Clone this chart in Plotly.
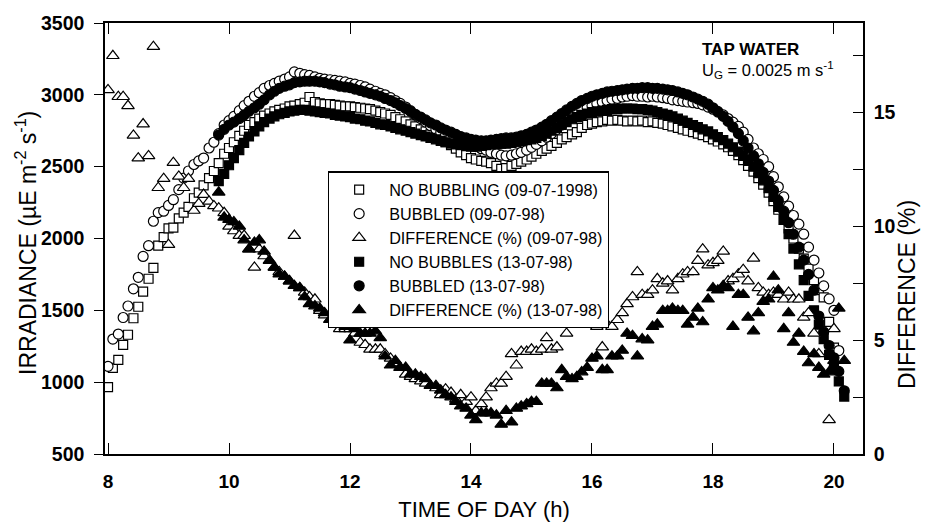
import plotly.graph_objects as go

# ---------------- data ----------------
# 09-07-1998 sampling times (h), 5-min steps
T_0907 = [
    8.00, 8.08, 8.17, 8.25, 8.33, 8.42, 8.50, 8.58, 8.67, 8.75, 8.83, 8.92,
    9.00, 9.08, 9.17, 9.25, 9.33, 9.42, 9.50, 9.58, 9.67, 9.75, 9.83, 9.92,
    10.00, 10.08, 10.17, 10.25, 10.33, 10.42, 10.50, 10.58, 10.67, 10.75, 10.83, 10.92,
    11.00, 11.08, 11.17, 11.25, 11.33, 11.42, 11.50, 11.58, 11.67, 11.75, 11.83, 11.92,
    12.00, 12.08, 12.17, 12.25, 12.33, 12.42, 12.50, 12.58, 12.67, 12.75, 12.83, 12.92,
    13.00, 13.08, 13.17, 13.25, 13.33, 13.42, 13.50, 13.58, 13.67, 13.75, 13.83, 13.92,
    14.00, 14.08, 14.17, 14.25, 14.33, 14.42, 14.50, 14.58, 14.67, 14.75, 14.83, 14.92,
    15.00, 15.08, 15.17, 15.25, 15.33, 15.42, 15.50, 15.58, 15.67, 15.75, 15.83, 15.92,
    16.00, 16.08, 16.17, 16.25, 16.33, 16.42, 16.50, 16.58, 16.67, 16.75, 16.83, 16.92,
    17.00, 17.08, 17.17, 17.25, 17.33, 17.42, 17.50, 17.58, 17.67, 17.75, 17.83, 17.92,
    18.00, 18.08, 18.17, 18.25, 18.33, 18.42, 18.50, 18.58, 18.67, 18.75, 18.83, 18.92,
    19.00, 19.08, 19.17, 19.25, 19.33, 19.42, 19.50, 19.58, 19.67, 19.75, 19.83, 19.92,
    20.00, 20.08,
]
NO_BUBBLING_0907 = [
    965, 1100, 1155, 1260, 1330, 1445, 1525, 1630, 1720, 1795, 1950, 2010,
    2070, 2075, 2140, 2180, 2220, 2280, 2320, 2370, 2420, 2470, 2525, 2590,
    2630, 2670, 2715, 2750, 2790, 2810, 2835, 2855, 2870, 2885, 2895, 2905,
    2920, 2925, 2935, 2945, 2985, 2950, 2940, 2935, 2935, 2930, 2925, 2920,
    2920, 2915, 2910, 2905, 2900, 2890, 2880, 2870, 2860, 2845, 2830, 2815,
    2795, 2780, 2760, 2745, 2725, 2705, 2690, 2670, 2650, 2625, 2600, 2580,
    2560, 2550, 2540, 2535, 2525, 2505, 2485, 2490, 2505, 2520, 2535, 2550,
    2570, 2590, 2610, 2625, 2645, 2665, 2690, 2705, 2725, 2740, 2770, 2790,
    2800, 2810, 2815, 2825, 2820, 2825, 2820, 2815, 2820, 2815, 2820, 2810,
    2815, 2805, 2800, 2790, 2780, 2770, 2760, 2750, 2740, 2730, 2720, 2705,
    2690, 2675, 2655, 2635, 2610, 2580, 2545, 2505, 2465, 2420, 2375, 2320,
    2260, 2200, 2130, 2070, 2000, 1930, 1860, 1790, 1710, 1640, 1590, 1420,
    1240, None,
]
BUBBLED_0907 = [
    1110, 1300, 1335, 1450, 1530, 1650, 1730, 1875, 1950, 2120, 2180, 2190,
    2230, 2270, 2340, 2420, 2470, 2515, 2540, 2560, 2630, 2670, 2730, 2790,
    2820, 2850, 2890, 2925, 2955, 2990, 3015, 3045, 3065, 3080, 3095, 3110,
    3125, 3160, 3150, 3140, 3135, 3125, 3115, 3110, 3105, 3100, 3095, 3090,
    3080, 3075, 3065, 3055, 3040, 3025, 3010, 3000, 2980, 2960, 2940, 2915,
    2890, 2860, 2835, 2810, 2785, 2760, 2740, 2720, 2705, 2690, 2675, 2665,
    2650, 2640, 2625, 2615, 2600, 2590, 2580, 2575, 2580, 2590, 2600, 2615,
    2635, 2655, 2680, 2705, 2730, 2760, 2790, 2820, 2850, 2875, 2895, 2910,
    2925, 2940, 2950, 2960, 2970, 2975, 2985, 2990, 2995, 2990, 2990, 2985,
    2990, 2985, 2980, 2975, 2965, 2960, 2955, 2950, 2945, 2940, 2930, 2915,
    2900, 2885, 2860, 2835, 2810, 2780, 2740, 2690, 2630, 2590, 2550, 2500,
    2430, 2360, 2290, 2225, 2160, 2100, 2030, 1940, 1850, 1760, 1670, 1580,
    1500, 1220,
]
DIFF_0907 = [
    16.0, 17.5, 15.7, 15.7, 15.3, 14.0, 13.0, 14.5, 13.1, 17.9, 11.7, 12.1,
    9.2, 12.8, 12.2, 11.7, 12.1, 10.7, 11.0, 11.4, 11.1, 10.9, 10.8, 10.6,
    10.0, 9.8, 9.6, 9.6, 9.0, 8.2, 9.0, 8.7, 8.5, 8.2, 8.0, 7.8,
    7.6, 9.6, 7.3, 7.1, 6.9, 6.8, 6.3, 6.1, 5.9, 5.7, 5.5, 5.5,
    5.5, 5.3, 4.9, 4.8, 4.6, 4.6, 4.6, 4.4, 4.2, 4.0, 3.8, 3.5,
    3.4, 3.3, 3.2, 3.1, 3.0, 2.9, 2.6, 2.85, 2.7, 2.4, 2.6, 2.3,
    2.5, 1.9, 2.2, 2.5, 2.9, 3.1, 3.1, 3.4, 4.4, 3.9, 4.5, 4.5,
    4.6, 4.5, 4.6, 5.1, 4.6, 4.7, 5.7, 5.3, 5.75, 5.9, 5.9, 5.7,
    5.8, 5.6, 4.7, 5.7, 5.6, 5.9, 6.2, 6.6, 6.9, 8.0, 7.0, 7.0,
    7.2, 7.7, 7.5, 7.6, 7.2, 7.7, 7.9, 8.0, 8.0, 8.5, 9.0, 8.3,
    8.4, 8.5, 8.9, 7.6, 7.7, 7.9, 8.1, 7.6, 8.6, 7.3, 7.1, 7.0,
    7.1, 7.0, 6.8, 7.1, 6.8, 6.8, 6.0, 6.2, 5.3, 4.4, None, 1.5,
    5.5, None,
]

# 13-07-1998 sampling times (h), 5-min steps
T_1307 = [
    9.83, 9.92,
    10.00, 10.08, 10.17, 10.25, 10.33, 10.42, 10.50, 10.58, 10.67, 10.75, 10.83, 10.92,
    11.00, 11.08, 11.17, 11.25, 11.33, 11.42, 11.50, 11.58, 11.67, 11.75, 11.83, 11.92,
    12.00, 12.08, 12.17, 12.25, 12.33, 12.42, 12.50, 12.58, 12.67, 12.75, 12.83, 12.92,
    13.00, 13.08, 13.17, 13.25, 13.33, 13.42, 13.50, 13.58, 13.67, 13.75, 13.83, 13.92,
    14.00, 14.08, 14.17, 14.25, 14.33, 14.42, 14.50, 14.58, 14.67, 14.75, 14.83, 14.92,
    15.00, 15.08, 15.17, 15.25, 15.33, 15.42, 15.50, 15.58, 15.67, 15.75, 15.83, 15.92,
    16.00, 16.08, 16.17, 16.25, 16.33, 16.42, 16.50, 16.58, 16.67, 16.75, 16.83, 16.92,
    17.00, 17.08, 17.17, 17.25, 17.33, 17.42, 17.50, 17.58, 17.67, 17.75, 17.83, 17.92,
    18.00, 18.08, 18.17, 18.25, 18.33, 18.42, 18.50, 18.58, 18.67, 18.75, 18.83, 18.92,
    19.00, 19.08, 19.17, 19.25, 19.33, 19.42, 19.50, 19.58, 19.67, 19.75, 19.83, 19.92,
    20.00, 20.08, 20.17,
]
NO_BUBBLES_1307 = [
    2400, 2450,
    2510, 2560, 2615, 2665, 2710, 2745, 2780, 2810, 2835, 2850, 2865, 2875,
    2885, 2890, 2895, 2895, 2890, 2885, 2880, 2875, 2870, 2860, 2855, 2850,
    2845, 2835, 2830, 2820, 2815, 2805, 2795, 2790, 2780, 2770, 2760, 2750,
    2740, 2730, 2720, 2710, 2700, 2690, 2680, 2670, 2660, 2655, 2650, 2645,
    2640, 2640, 2645, 2650, 2655, 2655, 2660, 2660, 2665, 2670, 2675, 2685,
    2690, 2700, 2715, 2730, 2750, 2770, 2790, 2810, 2830, 2845, 2860, 2870,
    2880, 2885, 2890, 2895, 2900, 2900, 2905, 2905, 2905, 2900, 2900, 2895,
    2890, 2880, 2870, 2860, 2850, 2835, 2820, 2805, 2790, 2775, 2760, 2745,
    2725, 2705, 2685, 2660, 2635, 2605, 2575, 2540, 2500, 2455, 2405, 2350,
    2290, 2220, 2130, 2030, 1930, 1820, 1710, 1600, 1500, 1400, 1300, 1190,
    1100, 1005, 900,
]
BUBBLED_1307 = [
    2720, 2760,
    2790, 2810, 2835, 2860, 2885, 2910, 2935, 2965, 3000, 3025, 3045, 3060,
    3070, 3085, 3090, 3095, 3095, 3095, 3090, 3085, 3075, 3070, 3060, 3055,
    3050, 3040, 3030, 3020, 3010, 3000, 2990, 2975, 2960, 2945, 2925, 2905,
    2885, 2865, 2845, 2825, 2805, 2790, 2770, 2755, 2740, 2725, 2710, 2700,
    2690, 2685, 2680, 2680, 2685, 2690, 2695, 2700, 2700, 2705, 2715, 2725,
    2740, 2755, 2775, 2795, 2820, 2845, 2870, 2895, 2920, 2940, 2960, 2975,
    2990, 3000, 3010, 3020, 3025, 3030, 3035, 3040, 3045, 3045, 3050, 3050,
    3045, 3045, 3040, 3035, 3030, 3020, 3010, 3000, 2985, 2970, 2955, 2935,
    2910, 2880, 2850, 2815, 2775, 2730, 2680, 2630, 2575, 2520, 2460, 2400,
    2335, 2265, 2190, 2110, 2030, 1940, 1850, 1750, 1640, 1460, 1350, 1255,
    1170, 1075, 940,
]
DIFF_1307 = [
    11.5, 10.4,
    10.3, 10.2, 10.0, 9.4, 9.0, 9.3, 9.4, 8.9, 8.5, 8.2, 7.9, 7.8,
    7.6, 7.4, 7.3, 6.9, 6.6, 6.5, 6.4, 6.2, 5.9, 5.8, 5.8, 5.6,
    5.0, 5.5, 5.3, 5.3, 5.3, 5.4, 5.1, 4.3, 3.9, 4.1, 3.8, 3.8,
    3.5, 3.5, 3.4, 3.3, 3.0, 3.0, 2.8, 2.6, 2.5, 2.3, 2.1, 2.0,
    1.7, 1.5, 1.8, 1.8, 1.8, 1.7, 1.3, 1.9, 1.4, 2.0, 2.1, 2.2,
    2.3, 2.3, 3.1, 3.1, 3.1, 2.9, 3.7, 3.4, 3.3, 3.4, 3.6, 3.8,
    4.2, 4.3, 3.7, 3.7, 4.3, 4.3, 4.55, 5.3, 5.2, 4.3, 5.05, 5.0,
    5.6, 5.7, 6.3, 6.3, 6.4, 6.3, 6.3, 5.7, 6.0, 6.4, 5.8, 6.8,
    7.3, 7.2, 7.4, 7.3, 5.6, 7.0, 7.0, 6.0, 5.4, 6.2, 6.7, 6.8,
    7.8, 7.2, 5.5, 6.2, 4.9, 5.3, 4.5, 4.0, 4.4, 3.8, 3.5, 3.6,
    4.1, 6.4, 4.1,
]

X_TICKS = [8, 10, 12, 14, 16, 18, 20]
Y_TICKS = [500, 1000, 1500, 2000, 2500, 3000, 3500]
Y2_TICKS = [0, 5, 10, 15]
Y2_MINOR_STEP = 2.5

NAMES = [
    "NO BUBBLING (09-07-1998)",
    "BUBBLED (09-07-98)",
    "DIFFERENCE (%) (09-07-98)",
    "NO BUBBLES (13-07-98)",
    "BUBBLED (13-07-98)",
    "DIFFERENCE (%) (13-07-98)",
]

# ---------------- figure ----------------
FONT = "Arial, Liberation Sans, Helvetica, sans-serif"
fig = go.Figure()

def add(x, y, name, symbol, fill, size, yaxis="y"):
    fig.add_trace(go.Scatter(
        x=x, y=y, name=name, mode="markers", yaxis=yaxis,
        marker=dict(symbol=symbol, size=size, color=fill,
                    line=dict(color="black", width=1.2)),
    ))

add(T_0907, NO_BUBBLING_0907, NAMES[0], "square", "white", 9)
add(T_0907, BUBBLED_0907, NAMES[1], "circle", "white", 10)
add(T_0907, DIFF_0907, NAMES[2], "triangle-up", "white", 11, "y2")
add(T_1307, NO_BUBBLES_1307, NAMES[3], "square", "black", 9)
add(T_1307, BUBBLED_1307, NAMES[4], "circle", "black", 10)
add(T_1307, DIFF_1307, NAMES[5], "triangle-up", "black", 11, "y2")

fig.update_layout(
    width=929, height=530,
    margin=dict(l=105, r=66, t=17, b=68),
    paper_bgcolor="white", plot_bgcolor="white",
    font=dict(family=FONT, color="black"),
    showlegend=True,
    legend=dict(
        x=0.294, y=0.656, xanchor="left", yanchor="top",
        bgcolor="white", bordercolor="black", borderwidth=1.3,
        font=dict(size=16.2, family=FONT), itemwidth=50,
        tracegroupgap=0,
    ),
    xaxis=dict(
        range=[7.95, 20.48], tickvals=X_TICKS,
        ticks="inside", ticklen=11, tickwidth=1.3, tickcolor="black",
        showline=True, linecolor="black", linewidth=1.5, mirror="ticks",
        showgrid=False, zeroline=False,
        tickfont=dict(size=19, family=FONT, weight="bold"),
        ticklabelstandoff=9,
        title=dict(text="TIME OF DAY (h)", font=dict(size=22, family=FONT), standoff=11),
    ),
    yaxis=dict(
        range=[500, 3500], tickvals=Y_TICKS,
        ticks="outside", ticklen=9, tickwidth=1.3, tickcolor="black",
        showline=True, linecolor="black", linewidth=1.5,
        showgrid=False, zeroline=False,
        tickfont=dict(size=19.5, family=FONT, weight="bold"),
        ticklabelstandoff=6,
    ),
    yaxis2=dict(
        overlaying="y", side="right", anchor="x",
        range=[0, 18.94], tickmode="array", tickvals=Y2_TICKS,
        ticks="inside", ticklen=10, tickwidth=1.3, tickcolor="black",
        minor=dict(ticks="inside", ticklen=10, tickwidth=1.3, tickcolor="black",
                   dtick=Y2_MINOR_STEP, tick0=0, showgrid=False),
        showline=True, linecolor="black", linewidth=1.5,
        showgrid=False, zeroline=False,
        tickfont=dict(size=19.5, family=FONT, weight="bold"),
        ticklabelstandoff=5,
    ),
    annotations=[
        dict(x=-0.104, y=0.49, xref="paper", yref="paper", xanchor="center", yanchor="middle",
             text="IRRADIANCE (\u00b5E m<sup>-2</sup> s<sup>-1</sup>)", textangle=-90,
             showarrow=False, font=dict(size=23, family=FONT)),
        dict(x=1.058, y=0.371, xref="paper", yref="paper", xanchor="center", yanchor="middle",
             text="DIFFERENCE (%)", textangle=-90,
             showarrow=False, font=dict(size=23, family=FONT)),
        dict(x=0.785, y=0.939, xref="paper", yref="paper", xanchor="left", yanchor="middle",
             text="<b>TAP WATER</b>", showarrow=False, font=dict(size=17, family=FONT)),
        dict(x=0.785, y=0.89, xref="paper", yref="paper", xanchor="left", yanchor="middle",
             text="U<sub>G</sub> = 0.0025 m s<sup>-1</sup>", showarrow=False,
             font=dict(size=16.5, family=FONT)),
    ],
)

fig.write_html("out.html")
